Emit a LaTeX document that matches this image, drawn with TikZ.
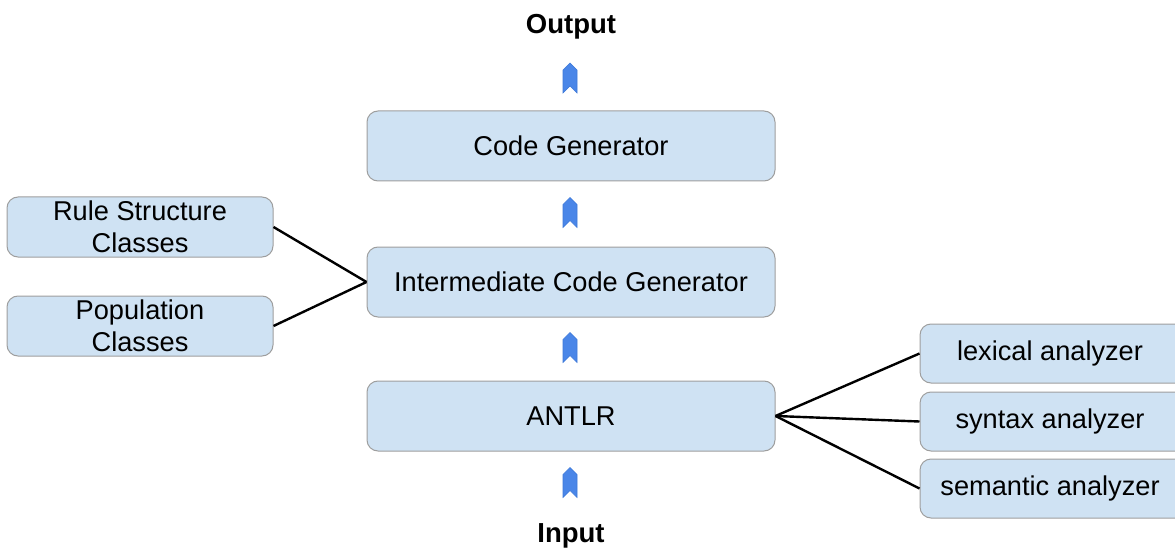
\documentclass[tikz,border=0pt]{standalone}
\usepackage{fontspec}
\setmainfont{Liberation Sans}
\definecolor{boxfill}{RGB}{207,226,243}
\definecolor{boxdraw}{RGB}{158,158,158}
\definecolor{chevfill}{RGB}{74,134,232}
\definecolor{chevdraw}{RGB}{60,120,216}
\tikzset{
  box/.style={draw=boxdraw, fill=boxfill, line width=1pt, rounded corners=11pt,
    inner sep=0pt, align=center, font=\fontsize{27.2}{31.5}\selectfont},
  link/.style={draw=black, line width=2.4pt},
  lbl/.style={font=\bfseries\fontsize{27.5}{31}\selectfont, inner sep=0pt},
  chev/.pic={\path[fill=chevfill, draw=chevdraw, line width=0.6pt]
    (0,-15) -- (7,-8) -- (7,15) -- (0,8) -- (-7,15) -- (-7,-8) -- cycle;}
}
\begin{document}
\begin{tikzpicture}[x=1pt,y=-1pt]
\useasboundingbox (0,0) rectangle (1175,548);
\clip (0,0) rectangle (1175,548);
% main column
\node[box, minimum width=408pt, minimum height=70pt] (cg)  at (571,146) {Code Generator};
\node[box, minimum width=408pt, minimum height=70pt] (icg) at (571,282) {Intermediate Code Generator};
\node[box, minimum width=408pt, minimum height=70pt] (antlr) at (571,416) {ANTLR};
% left boxes
\node[box, minimum width=266pt, minimum height=60pt] (rule) at (140,227) {Rule Structure\\Classes};
\node[box, minimum width=266pt, minimum height=60pt] (pop)  at (140,326) {Population\\Classes};
% right boxes (cut by the edge)
\node[box, minimum width=270pt, minimum height=59pt] (lex) at (1055,353.5) {\hspace*{-5pt}lexical analyzer\hspace*{5pt}};
\node[box, minimum width=270pt, minimum height=59pt] (syn) at (1055,421.5) {\hspace*{-5pt}syntax analyzer\hspace*{5pt}};
\node[box, minimum width=270pt, minimum height=59pt] (sem) at (1055,488.5) {\hspace*{-5pt}semantic analyzer\hspace*{5pt}};
% labels
\node[lbl] (out) at (571,27) {Output};
\node[lbl] (in)  at (571,536) {Input};
% links
\draw[link] (rule.east) -- (icg.west);
\draw[link] (pop.east) -- (icg.west);
\draw[link] (antlr.east) -- (lex.west);
\draw[link] (antlr.east) -- (syn.west);
\draw[link] (antlr.east) -- (sem.west);
% chevron arrows
\pic at (570,78) {chev};
\pic at (570,212.5) {chev};
\pic at (570,347.5) {chev};
\pic at (570,482.5) {chev};
\end{tikzpicture}
\end{document}
